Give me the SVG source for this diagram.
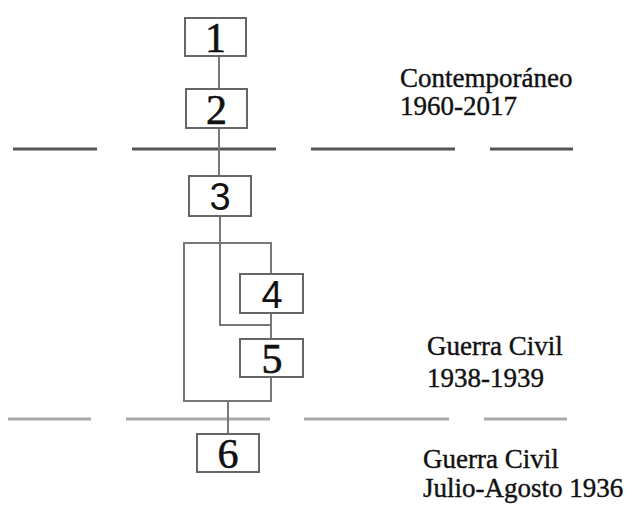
<svg xmlns="http://www.w3.org/2000/svg" width="633" height="505" viewBox="0 0 633 505">
<style>
.box{fill:#fff;stroke:#666;stroke-width:2}
.c{fill:none;stroke:#777;stroke-width:2}
.n{font-family:"Liberation Serif",serif;font-size:42px;fill:#111;stroke:#111;stroke-width:0.6;text-anchor:middle}
.ns{font-family:"Liberation Sans",sans-serif;font-size:38px;fill:#111;text-anchor:middle}
.lbl{font-family:"Liberation Serif",serif;font-size:27px;fill:#111;stroke:#111;stroke-width:0.4}
.d1{stroke:#555;stroke-width:3}
.d2{stroke:#aaa;stroke-width:3}
</style>
<rect width="633" height="505" fill="#fff"/>
<g id="dividers">
<line class="d1" x1="13" y1="149" x2="97" y2="149"/>
<line class="d1" x1="132" y1="149" x2="276" y2="149"/>
<line class="d1" x1="311" y1="149" x2="455" y2="149"/>
<line class="d1" x1="490" y1="149" x2="573" y2="149"/>
<line class="d2" x1="8" y1="419" x2="91" y2="419"/>
<line class="d2" x1="126" y1="419" x2="270" y2="419"/>
<line class="d2" x1="304" y1="419" x2="449" y2="419"/>
<line class="d2" x1="484" y1="419" x2="567" y2="419"/>
</g>
<g id="connectors">
<line class="c" x1="219" y1="56" x2="219" y2="89" stroke="#999"/>
<line class="c" x1="219" y1="128" x2="219" y2="176"/>
<polyline class="c" points="220,216 220,325 271,325"/>
<polyline class="c" points="271,274 271,243 184,243 184,401 271,401 271,377"/>
<line class="c" x1="271" y1="313" x2="271" y2="339"/>
<line class="c" x1="228" y1="401" x2="228" y2="434"/>
</g>
<g id="node1"><rect class="box" x="185" y="18" width="61" height="38"/><text class="n" x="215.5" y="52">1</text></g>
<g id="node2"><rect class="box" x="186" y="89" width="61" height="39"/><text class="n" x="216.5" y="124">2</text></g>
<g id="node3"><rect class="box" x="189" y="176" width="62" height="40"/><text class="ns" x="220" y="210">3</text></g>
<g id="node4"><rect class="box" x="240" y="274" width="63" height="39"/><text class="ns" x="272" y="308">4</text></g>
<g id="node5"><rect class="box" x="240" y="339" width="63" height="38"/><text class="n" x="272" y="373">5</text></g>
<g id="node6"><rect class="box" x="197" y="434" width="62" height="38"/><text class="n" x="228" y="468">6</text></g>
<g id="labels">
<text class="lbl" x="400" y="87">Contemporáneo</text>
<text class="lbl" x="400" y="115">1960-2017</text>
<text class="lbl" x="427" y="355">Guerra Civil</text>
<text class="lbl" x="427" y="387">1938-1939</text>
<text class="lbl" x="423" y="468">Guerra Civil</text>
<text class="lbl" x="423" y="497">Julio-Agosto 1936</text>
</g>
</svg>
